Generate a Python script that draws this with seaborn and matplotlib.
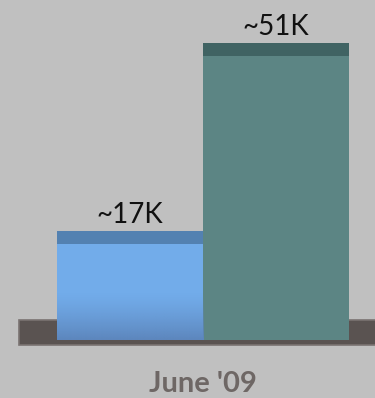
import numpy as np
import pandas as pd
import matplotlib
matplotlib.use("Agg")
import matplotlib.pyplot as plt
import seaborn as sns
from matplotlib.patches import Rectangle
from matplotlib.colors import to_rgb

# Data (thousands)
month = ["June '09", "June '09"]
series = ["first", "second"]
values_k = [17, 51]
value_labels = ["~17K", "~51K"]

# Styling
BG = "#c0c0c0"
body_colors = ["#72acea", "#5c8584"]
cap_colors = ["#5381b1", "#406363"]
FLOOR = "#5a5351"
FLOOR_EDGE = "#7a7371"
SINK = 2.7      # how far bars sink into the floor (data units)
CAP = 2.35      # height of the darker top band (data units)

sns.set_theme(style="white")
plt.rcParams["font.family"] = ["Lato", "DejaVu Sans"]

fig = plt.figure(figsize=(3.75, 3.98), dpi=100)
fig.patch.set_facecolor(BG)
ax = fig.add_axes([0, 1 - 350 / 398, 1, 350 / 398])
ax.set_facecolor(BG)

df = pd.DataFrame({"month": month, "series": series, "value": values_k})
sns.barplot(data=df, x="month", y="value", hue="series", palette=body_colors,
            width=1.0, dodge=True, legend=False, saturation=1, linewidth=0,
            zorder=2, ax=ax)

ax.set_xlim(-0.695, 0.589)
ax.set_ylim(-4.52, 58.77)

# floor slab
ax.add_patch(Rectangle((-0.630, -3.62), 2.0, 4.52, facecolor=FLOOR,
                       edgecolor=FLOOR_EDGE, linewidth=1.2, zorder=1))

bars = sorted([p for p in ax.patches if p.get_zorder() == 2],
              key=lambda p: p.get_x())
for p, v, cap, lab in zip(bars, values_k, cap_colors, value_labels):
    x, w = p.get_x(), p.get_width()
    p.set_y(-SINK)
    p.set_height(v + SINK)
    ax.add_patch(Rectangle((x, v - CAP), w, CAP, facecolor=cap,
                           linewidth=0, zorder=3))
    ax.annotate(lab, (x + w / 2, v), xytext=(0, 6), textcoords="offset points",
                ha="center", va="baseline", fontsize=20, color="#111111")

# soft darkening toward the base of the first bar
p0 = bars[0]
dark = np.array(to_rgb("#5d86bd"))
n = 64
grad = np.zeros((n, 1, 4))
grad[:, 0, :3] = dark
grad[:, 0, 3] = np.linspace(1.0, 0.0, n) ** 1.3
im = ax.imshow(grad, extent=[p0.get_x(), p0.get_x() + p0.get_width(), -SINK, 5.8],
               origin="lower", aspect="auto", zorder=2.5, interpolation="bilinear")
im.set_clip_path(p0)

ax.set_xlabel("")
ax.set_ylabel("")
ax.set_yticks([])
ax.tick_params(axis="x", length=0, pad=15, labelsize=21, labelcolor="#6e6765")
for t in ax.get_xticklabels():
    t.set_fontweight("bold")
for s in ax.spines.values():
    s.set_visible(False)

fig.savefig("out.png", dpi=100, facecolor=BG)
